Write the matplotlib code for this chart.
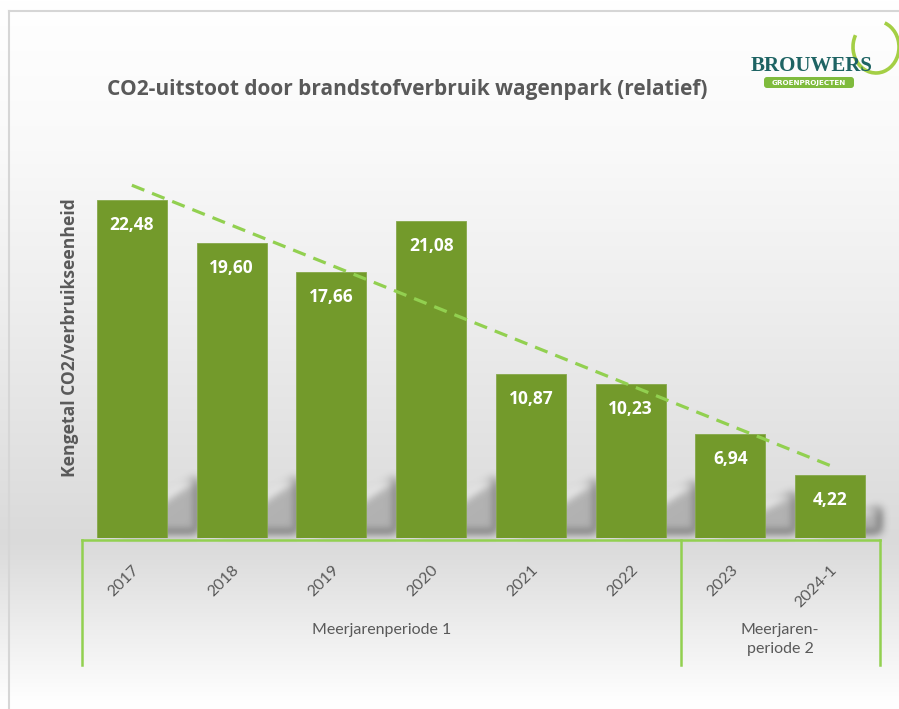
import numpy as np
import matplotlib
matplotlib.use("Agg")
import matplotlib.pyplot as plt
from matplotlib.patches import Polygon, Arc, FancyBboxPatch
from matplotlib.lines import Line2D

# data
years = ["2017", "2018", "2019", "2020", "2021", "2022", "2023", "2024-1"]
co2 = [22.48, 19.60, 17.66, 21.08, 10.87, 10.23, 6.94, 4.22]
periods = ["Meerjarenperiode 1", "Meerjaren-\nperiode 2"]
period_sizes = [6, 2]
title = "CO2-uitstoot door brandstofverbruik wagenpark (relatief)"
ylabel = "Kengetal CO2/verbruikseenheid"

W, H = 899, 709
BAR = "#739a2b"
LIME = "#92d050"
GREY = "#595959"


def fx(x):
    return x / W


def fy(y):
    return 1 - y / H


def blur(sigma):
    # gaussian blur for agg_filter (soft shadows)
    pad = int(3 * sigma)
    k = np.exp(-0.5 * (np.arange(-pad, pad + 1) / sigma) ** 2)
    k /= k.sum()

    def f(im, dpi):
        a = np.pad(im, ((pad, pad), (pad, pad), (0, 0)))
        a = np.apply_along_axis(lambda m: np.convolve(m, k, mode="same"), 0, a)
        a = np.apply_along_axis(lambda m: np.convolve(m, k, mode="same"), 1, a)
        return a, -pad, -pad
    return f


fig = plt.figure(figsize=(W / 100, H / 100), dpi=100)

# background gradient + frame
bg = fig.add_axes([0, 0, 1, 1], zorder=-10)
ys = np.arange(H)
stops_y = [0, 150, 300, 540, 560, 700, H]
stops_c = [255, 249, 238, 218, 222, 254, 255]
col = np.interp(ys, stops_y, stops_c) / 255
grad = np.repeat(col[:, None, None], 3, axis=2)
bg.imshow(grad, aspect="auto", extent=(0, W, H, 0))
bg.set_xlim(0, W)
bg.set_ylim(H, 0)
bg.plot([9, W], [11, 11], color="#d6d6d6", lw=1.5)
bg.plot([9, 9], [11, H], color="#d6d6d6", lw=1.5)
bg.axis("off")

# main axes
left, right, base, top = 82, 880, 538, 160
ax = fig.add_axes([fx(left), fy(base), fx(right) - fx(left), fy(top) - fy(base)])
ax.patch.set_alpha(0)
ymax = 25.13
ax.set_xlim(-0.5, len(years) - 0.5)
ax.set_ylim(0, ymax)
for s in ax.spines.values():
    s.set_visible(False)
ax.set_xticks([])
ax.set_yticks([])

x = np.arange(len(years))
bw = 0.7
px_cat = (right - left) / len(years)
px_val = (base - top) / ymax

# soft perspective shadows in the gaps
for i, v in enumerate(co2):
    f = min(1.0, v * px_val / 170)
    x1 = i + bw / 2
    xl = x1 - 50 / px_cat
    xr = x1 + 30 / px_cat
    h0 = (38 * f - 0.73 * 50) / px_val
    h1 = (38 * f + 0.73 * 30) / px_val
    y0 = 6 / px_val
    poly = Polygon([(xl, y0), (xr, y0), (xr, max(h1, y0)), (xl, max(h0, y0))],
                   closed=True, facecolor="#b2b2b2", edgecolor="none", zorder=1)
    poly.set_agg_filter(blur(4.5))
    ax.add_patch(poly)

bars = ax.bar(x, co2, width=bw, color=BAR, edgecolor="#86a84a", linewidth=0.6, zorder=3)

for xi, v in zip(x, co2):
    ax.annotate(f"{v:.2f}".replace(".", ","), (xi, v), xytext=(0, -25),
                textcoords="offset pixels",
                ha="center", va="center", color="white", fontsize=12.5,
                fontweight="bold", family="Open Sans", zorder=5)

# linear trend line
k, b = np.polyfit(x, co2, 1)
tl = Line2D(x[[0, -1]], k * x[[0, -1]] + b, color=LIME, lw=2.3, zorder=4)
tl.set_dashes([4.2, 2.6])
ax.add_line(tl)

# category box
tr = ax.get_xaxis_transform()
yb_line = (base - 540) / (base - top)
yb_end = (base - 665) / (base - top)
ax.plot([-0.5, len(years) - 0.5], [yb_line, yb_line], color=LIME, lw=1.8,
        transform=tr, clip_on=False, zorder=6)
edges = np.concatenate([[0], np.cumsum(period_sizes)]) - 0.5
for e in edges:
    ax.plot([e, e], [yb_line, yb_end], color=LIME, lw=1.8, transform=tr,
            clip_on=False, zorder=6)

y_year = (base - 568) / (base - top)
for xi, lab in zip(x, years):
    ax.text(xi + 0.05, y_year, lab, transform=tr, rotation=45,
            rotation_mode="anchor", ha="right", va="center", color=GREY,
            fontsize=11.5, family="Lato")

y_per = (base - 623) / (base - top)
for lab, a, b2 in zip(periods, edges[:-1], edges[1:]):
    ax.text((a + b2) / 2, y_per, lab, transform=tr, ha="center", va="top",
            color=GREY, fontsize=11.5, family="Lato", linespacing=1.45)

# titles
fig.text(fx(407), fy(90), title, ha="center", va="center", fontsize=15,
         fontweight="bold", color=GREY, family="Open Sans")
fig.text(fx(70), fy(338), ylabel, ha="center", va="center", rotation=90,
         fontsize=12.6, fontweight="bold", color=GREY, family="Open Sans")

# logo
lg = fig.add_axes([0, 0, 1, 1], zorder=5)
lg.set_xlim(0, W)
lg.set_ylim(H, 0)
lg.axis("off")
lg.patch.set_alpha(0)
lg.add_patch(Arc((876, 47), 46, 52, theta1=-70, theta2=210, color="#a4cf45", lw=2.6))
lg.add_patch(FancyBboxPatch((764, 77), 90, 11, boxstyle="round,pad=0,rounding_size=3",
                            facecolor="#7fbb3d", edgecolor="none"))
lg.text(809, 82.5, "GROENPROJECTEN", ha="center", va="center", color="white",
        fontsize=5.2, fontweight="bold", family="DejaVu Sans")
lg.text(812, 66, "BROUWERS", ha="center", va="center", color="#1d6363",
        fontsize=15, fontweight="bold", family="Liberation Serif")

fig.savefig("out.png", dpi=100)
